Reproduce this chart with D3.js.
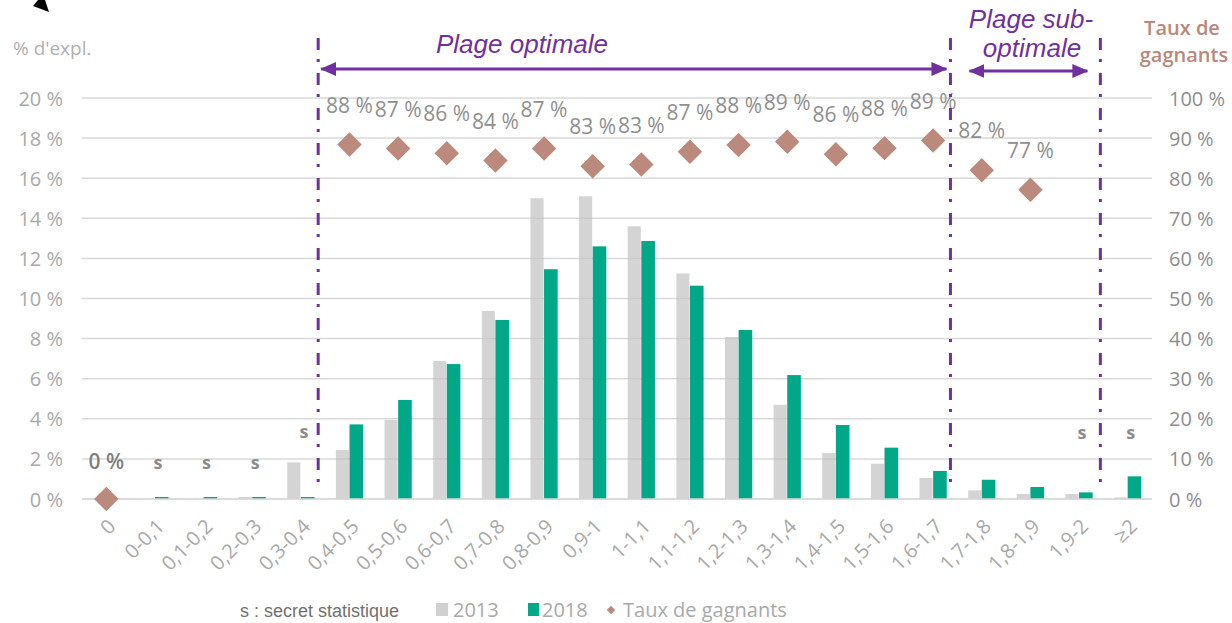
<!DOCTYPE html>
<html><head><meta charset="utf-8">
<script src="https://cdn.jsdelivr.net/npm/d3@7"></script>
<style>
html,body{margin:0;padding:0;background:#fff;}
svg{display:block;}
</style></head>
<body>
<svg id="chart" width="1232" height="623"></svg>
<script>
const categories = ["0","0-0,1","0,1-0,2","0,2-0,3","0,3-0,4","0,4-0,5","0,5-0,6","0,6-0,7","0,7-0,8","0,8-0,9","0,9-1","1-1,1","1,1-1,2","1,2-1,3","1,3-1,4","1,4-1,5","1,5-1,6","1,6-1,7","1,7-1,8","1,8-1,9","1,9-2","≥2"];
const share2013 = [0, null, null, 0.1, 1.83, 2.44, 3.94, 6.88, 9.38, 15.0, 15.1, 13.6, 11.25, 8.08, 4.7, 2.29, 1.76, 1.05, 0.43, 0.25, 0.25, 0.08];
const share2018 = [0, 0.1, 0.1, 0.1, 0.1, 3.72, 4.94, 6.73, 8.93, 11.46, 12.6, 12.87, 10.64, 8.43, 6.18, 3.69, 2.56, 1.40, 0.96, 0.6, 0.33, 1.13];
const tauxGagnants = [0, null, null, null, null, 88.4, 87.4, 86.2, 84.4, 87.4, 83.0, 83.4, 86.6, 88.3, 89.1, 86.0, 87.5, 89.4, 82.0, 77.1, null, null];
const secretCategories = ["0-0,1","0,1-0,2","0,2-0,3","0,3-0,4","1,9-2","≥2"];
const secretLevel = [0, 0, 0, 7.7, 7.4, 7.4]; // right-axis level of "s" labels
const leftTicks = [0,2,4,6,8,10,12,14,16,18,20];
const rightTicks = [0,10,20,30,40,50,60,70,80,90,100];
const zones = [
  {label:["Plage optimale"], from:"0,4-0,5", to:"1,6-1,7"},
  {label:["Plage sub-","optimale"], from:"1,7-1,8", to:"1,9-2"}
];

const C = {grey:"#c4c4c4", green:"#00a887", brown:"#bb8a7c", purple:"#7030a0", grid:"#d9d9d9"};
const svg = d3.select("#chart");
const x = d3.scaleBand().domain(categories).range([82,1152]).paddingInner(0).paddingOuter(0);
const yL = d3.scaleLinear().domain([0,20]).range([499,98]);
const yR = d3.scaleLinear().domain([0,100]).range([499,98]);
const bw = x.bandwidth()*0.28;
const cx = c => x(c) + x.bandwidth()/2;

// corner arrow fragment
svg.append("polygon").attr("points","33,6 49,12 45,0 38,0").attr("fill","#000");

// gridlines
svg.append("g").selectAll("line").data(leftTicks).join("line")
  .attr("x1",82).attr("x2",1152).attr("y1",d=>yL(d)).attr("y2",d=>yL(d))
  .attr("stroke",C.grid).attr("stroke-width",1.5);

// bars
const d13 = categories.map((c,i)=>({c,v:share2013[i]})).filter(d=>d.v!=null && d.v>0);
const d18 = categories.map((c,i)=>({c,v:share2018[i]})).filter(d=>d.v!=null && d.v>0);
svg.append("g").selectAll("rect").data(d13).join("rect")
  .attr("x",d=>cx(d.c)-bw).attr("width",bw-0.5)
  .attr("y",d=>yL(d.v)).attr("height",d=>yL(0)-yL(d.v))
  .attr("fill",C.grey).attr("fill-opacity",0.72);
svg.append("g").selectAll("rect").data(d18).join("rect")
  .attr("x",d=>cx(d.c)).attr("width",bw)
  .attr("y",d=>yL(d.v)).attr("height",d=>yL(0)-yL(d.v))
  .attr("fill",C.green);

// axes tick labels
const axL = d3.axisLeft(yL).tickValues(leftTicks).tickFormat(d=>d+" %").tickSize(0).tickPadding(0);
const gL = svg.append("g").attr("transform","translate(63,0)").call(axL);
gL.select(".domain").remove();
gL.selectAll("text").attr("font-family","Open Sans").attr("font-size",20).attr("fill","#a9a9a9").attr("dy","0.35em");
const axR = d3.axisRight(yR).tickValues(rightTicks).tickFormat(d=>d+" %").tickSize(0).tickPadding(0);
const gR = svg.append("g").attr("transform","translate(1169,0)").call(axR);
gR.select(".domain").remove();
gR.selectAll("text").attr("font-family","Open Sans").attr("font-size",20).attr("fill","#8e8e8e").attr("dy","0.35em");

// x labels
const axB = d3.axisBottom(x).tickSize(0).tickPadding(0);
const gB = svg.append("g").call(axB);
gB.select(".domain").remove();
gB.selectAll(".tick").attr("transform",d=>`translate(${cx(d)},517)`);
gB.selectAll("text").attr("font-family","Open Sans").attr("font-size",20).attr("fill","#a9a9a9")
  .attr("text-anchor","end").attr("x",0).attr("y",0).attr("dy","0.75em").attr("transform","rotate(-45)");

// zero-line overlay
svg.append("line").attr("x1",82).attr("x2",1152).attr("y1",yL(0)).attr("y2",yL(0)).attr("stroke",C.grid).attr("stroke-width",1.5);

// diamonds
const pts = categories.map((c,i)=>({c,v:tauxGagnants[i]})).filter(d=>d.v!=null);
const diamond = d3.symbol().type(d3.symbolSquare).size(300);
svg.append("g").selectAll("path").data(pts).join("path")
  .attr("d",diamond).attr("transform",d=>`translate(${cx(d.c)},${yR(d.v)}) rotate(45)`)
  .attr("fill",C.brown);
svg.append("g").selectAll("text").data(pts).join("text")
  .attr("x",d=>cx(d.c)).attr("y",d=>yR(d.v)-(d.v===0?30:32))
  .attr("text-anchor","middle").attr("font-family","Open Sans").attr("font-size",21)
  .attr("font-weight",d=>d.v===0?600:400)
  .attr("fill",d=>d.v===0?"#7f7f7f":"#8f8f8f").text(d=>Math.round(d.v)+" %");

// secret labels
svg.append("g").selectAll("text").data(secretCategories).join("text")
  .attr("x",d=>cx(d)+3).attr("y",(d,i)=>yR(secretLevel[i])-30)
  .attr("text-anchor","middle").attr("font-family","Open Sans").attr("font-size",18).attr("font-weight",700)
  .attr("fill","#8c8c8c").text("s");

// vertical dash-dot lines
const vlines = [x("0,4-0,5")-7, x("1,7-1,8")-7, x("≥2")-3];
svg.append("g").selectAll("line").data(vlines).join("line")
  .attr("x1",d=>d).attr("x2",d=>d).attr("y1",38).attr("y2",486)
  .attr("stroke",C.purple).attr("stroke-width",3).attr("stroke-dasharray","12,9,3,11");

// arrows
const defs = svg.append("defs");
defs.append("marker").attr("id","ahe").attr("viewBox","0 0 16 14").attr("refX",15).attr("refY",7)
  .attr("markerWidth",16).attr("markerHeight",14).attr("markerUnits","userSpaceOnUse").attr("orient","auto-start-reverse")
  .append("path").attr("d","M0,0 L16,7 L0,14 Z").attr("fill",C.purple);
const arrows = [{x1:vlines[0]+3,x2:vlines[1]-4,y:69},{x1:vlines[1]+19,x2:vlines[2]-13,y:71}];
svg.append("g").selectAll("line").data(arrows).join("line")
  .attr("x1",d=>d.x1).attr("x2",d=>d.x2).attr("y1",d=>d.y).attr("y2",d=>d.y)
  .attr("stroke",C.purple).attr("stroke-width",3)
  .attr("marker-start","url(#ahe)").attr("marker-end","url(#ahe)");

// zone labels
svg.append("text").attr("x",522).attr("y",53).attr("text-anchor","middle")
  .attr("font-family","Liberation Sans").attr("font-style","italic").attr("font-size",26).attr("fill",C.purple).text(zones[0].label[0]);
const z2 = svg.append("text").attr("text-anchor","middle").attr("font-family","Liberation Sans").attr("font-style","italic").attr("font-size",26).attr("fill",C.purple);
z2.append("tspan").attr("x",1031).attr("y",28).text(zones[1].label[0]);
z2.append("tspan").attr("x",1032).attr("y",57).text(zones[1].label[1]);

// axis titles
svg.append("text").attr("x",13).attr("y",55).attr("font-family","Open Sans").attr("font-size",19).attr("font-weight",500).attr("fill","#b0b0b0").text("% d'expl.");
const rt = svg.append("text").attr("text-anchor","middle").attr("font-family","Open Sans").attr("font-size",20).attr("font-weight",600).attr("fill","#b8887a");
rt.append("tspan").attr("x",1182).attr("y",35).text("Taux de");
rt.append("tspan").attr("x",1184).attr("y",62).text("gagnants");

// legend
svg.append("text").attr("x",240).attr("y",617).attr("font-family","Liberation Sans").attr("font-size",18).attr("fill","#707070").text("s : secret statistique");
svg.append("rect").attr("x",436).attr("y",603).attr("width",12).attr("height",13).attr("fill","#d0d0d0");
svg.append("text").attr("x",453).attr("y",617).attr("font-family","Open Sans").attr("font-size",20).attr("fill","#a9a9a9").text("2013");
svg.append("rect").attr("x",528).attr("y",603).attr("width",11).attr("height",13).attr("fill",C.green);
svg.append("text").attr("x",542).attr("y",617).attr("font-family","Open Sans").attr("font-size",20).attr("fill","#a9a9a9").text("2018");
svg.append("path").attr("d",d3.symbol().type(d3.symbolSquare).size(36)).attr("transform","translate(611,610) rotate(45)").attr("fill",C.brown);
svg.append("text").attr("x",623).attr("y",617).attr("font-family","Open Sans").attr("font-size",20).attr("fill","#a9a9a9").text("Taux de gagnants");
</script>
</body></html>
